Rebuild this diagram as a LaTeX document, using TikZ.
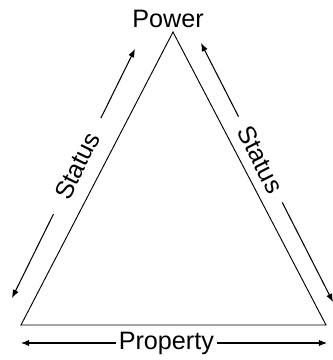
\documentclass[tikz,border=0pt]{standalone}
\usepackage{fontspec}
\setmainfont{Liberation Sans}
\usetikzlibrary{arrows.meta}

\begin{document}
\begin{tikzpicture}[x=0.03cm, y=-0.03cm,
    lbl/.style={font=\fontsize{21.5}{26}\selectfont, inner ysep=1pt},
    arrow/.style={{Latex[length=7pt,width=5.5pt]}-{Latex[length=7pt,width=5.5pt]}, line width=0.9pt},
    side/.style={line width=0.8pt}
  ]
    \useasboundingbox (0,0) rectangle (332,360);
    \coordinate (top) at (173,32);
    \coordinate (bl) at (21,325);
    \coordinate (br) at (326,325);
    \node[lbl, anchor=base] (power) at (168,27) {Power};

    \coordinate (ls) at (12,298);
    \coordinate (le) at (135,49);
    \coordinate (rs) at (201,43);
    \coordinate (re) at (333,302);
    \coordinate (ps) at (21,343);
    \coordinate (pe) at (327,343);

    \draw[arrow] (ls) -- node[lbl, pos=0.53, sloped, fill=white, inner xsep=15pt] (lstatus) {Status} (le);
    \draw[arrow] (rs) -- node[lbl, pos=0.45, sloped, fill=white, inner xsep=10.5pt] (rstatus) {Status} (re);
    \draw[arrow] (ps) -- node[lbl, pos=0.475, fill=white, inner xsep=2.5pt] (property) {Property} (pe);

    \draw[side] (top) -- (br) -- (bl) -- cycle;
  \end{tikzpicture}
\end{document}
